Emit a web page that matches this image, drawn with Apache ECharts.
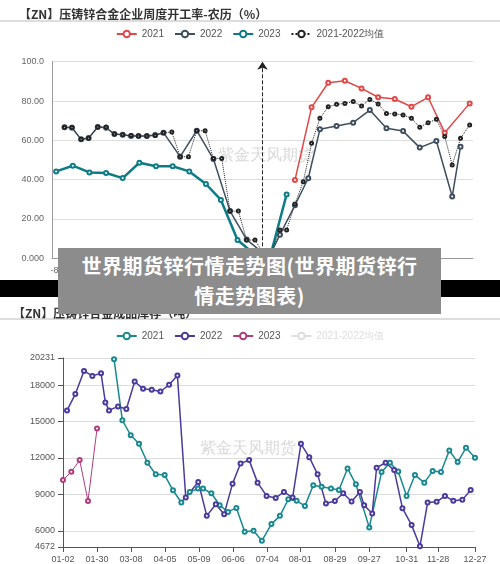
<!DOCTYPE html>
<html><head><meta charset="utf-8">
<script src="https://cdn.jsdelivr.net/npm/echarts@6/dist/echarts.min.js"></script>
<style>
html,body{margin:0;padding:0;background:#000;width:500px;height:564px;overflow:hidden;position:relative;font-family:"Noto Sans CJK SC",sans-serif}
#topc{position:absolute;left:0;top:0;width:500px;height:280px;background:#fff}
#botc{position:absolute;left:0;top:297px;width:500px;height:267px;background:#fff}
#banner{position:absolute;left:58px;top:248px;width:383px;height:66px;background:#8c8c8c;color:#fff;font-weight:bold;font-size:20px;line-height:30px;text-align:center;padding-top:3px;box-sizing:border-box;letter-spacing:0.5px}
</style></head><body>
<div id="topc"></div><div id="botc"></div>
<div id="banner">世界期货锌行情走势图(世界期货锌行<br>情走势图表)</div>
<script>
// ---- top chart: weekly operating rate (%) by lunar week ----
const topWeeks2022 = [1.5,2.4,3.5,4.4,5.5,6.5,7.5,8.5,9.5,10.4,11.4,12.4,13.4,15.4,17.4,19.4,21.4,23.4,25.4,26.3,27.4,29.2,30.8,32.2,34.2,36.2,38.2,40.2,42.2,44.2,46.2,48.1,49.1];
const top2022 = [66.6,66.4,60.5,61.2,66.8,66.4,63.2,62.9,62.2,62.2,62.2,62.7,63.9,51.7,64.9,50.5,24,9.5,2.5,2.5,12,27,40.7,65.6,67.3,69,75.4,66.1,64.7,56.3,59.7,31.4,56.8];
const topWeeksAvg = [1.5,2.4,3.5,4.4,5.5,6.5,7.5,8.5,9.5,10.4,11.4,12.4,13.4,14.4,15.4,16.4,17.4,18.4,19.4,20.4,21.4,22.4,23.4,24.4,25.4,26.3,27.4,28.2,29.2,30.2,31.2,32.2,33.2,34.2,35.2,36.2,37.2,38.2,39.2,40.2,41.2,42.2,43.2,44.2,45.2,46.2,47.2,48.1,49.1,50.2];
const topAvg = [66.6,66.6,60.5,61.0,66.8,66.8,63.2,62.9,62.4,62.2,62.2,62.4,63.9,64.2,51.7,51.7,64.9,64.9,50.8,50.8,24,24,9.3,9.3,2.5,2.8,14.4,14.4,27.6,39,58.5,71.2,77.1,78.3,78.8,79.7,77.5,80.8,78.5,73.7,73.4,72.9,71.2,66.6,69,70.7,61.9,47.5,61,67.8];
const topWeeks2021 = [29.2,31.2,33.2,35.2,37.2,39.2,41.2,43.2,45.2,47.2,50.2];
const top2021 = [39.8,76.8,89.3,90.3,86.4,81.9,81,77.1,81.9,63.9,78.8];
const topWeeks2023 = [0.5,2.5,4.5,6.5,8.5,10.5,12.5,14.5,16.5,18.5,20.3,22.3,24.3,26.3,28.2];
const top2023 = [44.2,47.1,43.7,43.4,40.8,48.6,46.8,46.8,44.2,37.8,29.7,9.3,2.2,2.2,32.5];
const topTickPos = [0.6,15.6,30.2,45.1];
const topTickLabels = ['-89','35','14','67'];
const topYLabels = {0:'0.000',20:'20.00',40:'40.00',60:'60.00',80:'80.00',100:'100.0'};
const nowWeek = 25.3;

// ---- bottom chart: finished goods inventory (t) ----
const botWeeks2022 = [0.47,1.45,2.47,3.45,4.47,4.98,5.41,6.47,7.45,8.43,9.41,10.43,11.45,12.47,13.45,14.43,15.9,16.9,17.96,18.94,19.93,20.87,21.88,22.87,23.93,25,25.97,26.99,27.97,28.95,29.93,30.91,31.96,32.94,33.92,34.9,35.4,36.35,36.86,37.92,38.93,39.9,40.98,41.96,42.86,43.92,44.9,45.88,46.94,47.92];
const bot2022 = [15917,17260,19168,18759,18980,16572,15917,16245,16031,18292,17694,17612,17473,18022,18784,8742,10020,7236,8194,7375,9889,11552,11824,9971,8876,8710,9201,8742,13165,12068,10651,8251,8464,9095,8415,9201,8112,7432,11200,11609,11003,7866,6474,4729,8333,8388,8874,8470,8552,9365];
const botWeeks2021 = [6.0,6.98,7.96,8.94,9.92,10.9,11.95,12.93,13.91,14.89,15.87,16.46,17.44,18.42,19.4,20.38,21.36,22.4,23.38,24.5,25.5,26.48,27.46,28.44,29.42,30.4,31.5,32.43,33.45,34.43,36.0,37.45,38.43,39.41,40.39,41.37,42.47,43.45,44.43,45.41,46.39,47.37,48.43];
const bot2021 = [20126,15098,13872,13165,11609,10651,10594,9340,8333,9201,9480,9480,9095,8112,7563,7891,5925,6007,5188,6556,7236,8603,8470,8057,9750,9640,9480,9365,11142,9832,6286,10839,11609,10894,8874,10594,9971,10921,10839,12616,11663,12837,12018];
const botWeeks2023 = [0,0.98,1.96,2.94,4.0];
const bot2023 = [10184,10872,11824,8464,14418];
const botTickPos = [0,4,8,12,16,20,24,27.9,31.96,36,40.4,44.1,48.43];
const botTickLabels = ['01-02','01-30','03-08','04-05','05-09','06-06','07-04','08-01','08-29','09-27','10-31','11-28','12-27'];
const botYTicks = [4672,6000,9000,12000,15000,18000,20231];

const pair = (xs, ys) => xs.map((x, i) => [x, ys[i]]);
const nearestLabel = (pos, labels, v) => { let b = 0; pos.forEach((p,i)=>{ if (Math.abs(p-v) < Math.abs(pos[b]-v)) b = i; }); return labels[b]; };
const titleStyle = {fontSize:12,fontWeight:'bold',color:'#333',fontFamily:'Noto Sans CJK SC'};
const sym = (s) => ({symbol:'emptyCircle',symbolSize:s||4,showSymbol:true});

const topChart = echarts.init(document.getElementById('topc'));
topChart.setOption({
  animation:false,
  title:{text:'【ZN】压铸锌合金企业周度开工率-农历（%）',left:14,top:3,textStyle:titleStyle},
  graphic:[
    {type:'line',shape:{x1:0,y1:21,x2:500,y2:21},style:{stroke:'#bbb',lineWidth:1}},
    {type:'text',left:218,top:148,style:{text:'紫金天风期货',fontSize:16,fill:'rgba(180,180,180,0.5)'}}
  ],
  legend:{top:24,left:'center',itemWidth:20,itemHeight:8,itemGap:10,textStyle:{fontSize:10,color:'#555'},
    data:['2021','2022','2023','2021-2022均值']},
  grid:{left:52,right:27,top:61.7,bottom:21.7},
  xAxis:{type:'value',min:0,max:50.6,
    axisLine:{lineStyle:{color:'#999'}},axisTick:{show:false},splitLine:{show:false},
    axisLabel:{customValues:topTickPos,fontSize:9,color:'#666',formatter:v=>nearestLabel(topTickPos,topTickLabels,v)}},
  yAxis:{type:'value',min:0,max:100,interval:20,
    axisLine:{show:true,lineStyle:{color:'#999'}},axisTick:{show:false},
    splitLine:{lineStyle:{color:'#ddd'}},
    axisLabel:{fontSize:9,color:'#666',formatter:v=>topYLabels[v]}},
  series:[
    {name:'2021',type:'line',data:pair(topWeeks2021,top2021),color:'#e04848',lineStyle:{width:1.5},...sym()},
    {name:'2022',type:'line',data:pair(topWeeks2022,top2022),color:'#3e4e5e',lineStyle:{width:1.5},...sym()},
    {name:'2023',type:'line',data:pair(topWeeks2023,top2023),color:'#0e7c86',lineStyle:{width:2.5},...sym()},
    {name:'2021-2022均值',type:'line',data:pair(topWeeksAvg,topAvg),color:'#222',lineStyle:{width:1,type:'dotted'},...sym(3),itemStyle:{borderWidth:0.8},
      markLine:{silent:true,symbol:['none','arrow'],symbolSize:8,label:{show:false},
        lineStyle:{color:'#222',type:'dashed',width:1},
        data:[[{coord:[nowWeek,0]},{coord:[nowWeek,100]}]]}}
  ]
});

const botChart = echarts.init(document.getElementById('botc'));
botChart.setOption({
  animation:false,
  title:{text:'【ZN】压铸锌合金成品库存（吨）',left:8,top:5,textStyle:titleStyle},
  graphic:[
    {type:'line',shape:{x1:0,y1:22,x2:500,y2:22},style:{stroke:'#bbb',lineWidth:1}},
    {type:'text',left:200,top:144,style:{text:'紫金天风期货',fontSize:16,fill:'rgba(180,180,180,0.5)'}}
  ],
  legend:{top:29,left:'center',itemWidth:20,itemHeight:8,itemGap:10,textStyle:{fontSize:10,color:'#555'},
    data:['2021','2022','2023',{name:'2021-2022均值',textStyle:{color:'#ddd'}}]},
  grid:{left:63,right:25,top:61,bottom:16},
  xAxis:{type:'value',min:0,max:48.43,
    axisLine:{lineStyle:{color:'#555'}},axisTick:{show:true,customValues:botTickPos,lineStyle:{color:'#555'}},splitLine:{show:false},
    axisLabel:{customValues:botTickPos,fontSize:9,color:'#555',formatter:v=>nearestLabel(botTickPos,botTickLabels,v)}},
  yAxis:{type:'value',min:4672,max:20231,
    axisLine:{show:true,lineStyle:{color:'#555'}},axisTick:{show:true,customValues:botYTicks,lineStyle:{color:'#555'}},
    splitLine:{lineStyle:{color:'#ddd'}},
    axisLabel:{customValues:botYTicks,fontSize:9,color:'#555',formatter:v=>String(Math.round(v))}},
  series:[
    {name:'2021',type:'line',data:pair(botWeeks2021,bot2021),color:'#18898f',lineStyle:{width:1.5},...sym()},
    {name:'2022',type:'line',data:pair(botWeeks2022,bot2022),color:'#4a3a9e',lineStyle:{width:1.5},...sym()},
    {name:'2023',type:'line',data:pair(botWeeks2023,bot2023),color:'#b03c7c',lineStyle:{width:1},...sym()},
    {name:'2021-2022均值',type:'line',data:[],color:'#ddd'}
  ]
});
</script></body></html>
